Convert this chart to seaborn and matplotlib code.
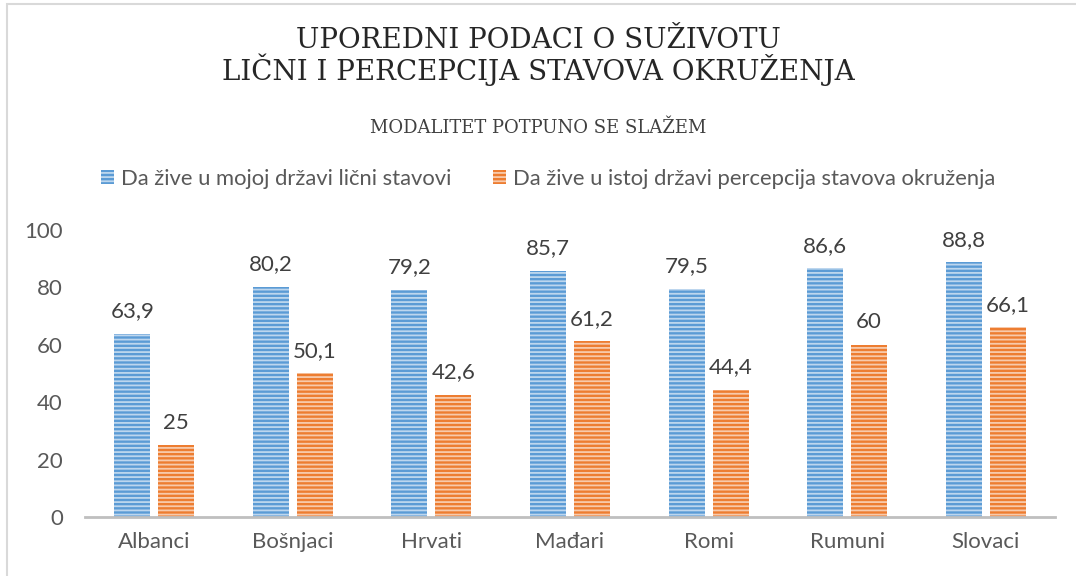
import pandas as pd
import matplotlib.pyplot as plt
import seaborn as sns
from matplotlib.patches import Rectangle

# podaci sa grafikona
grupe = ["Albanci", "Bošnjaci", "Hrvati", "Mađari", "Romi", "Rumuni", "Slovaci"]
licni_stavovi = [63.9, 80.2, 79.2, 85.7, 79.5, 86.6, 88.8]
percepcija_okruzenja = [25, 50.1, 42.6, 61.2, 44.4, 60, 66.1]
serije = ["Da žive u mojoj državi lični stavovi",
          "Da žive u istoj državi percepcija stavova okruženja"]
boje = ["#5B9BD5", "#ED7D31"]

df = pd.DataFrame({
    "grupa": grupe * 2,
    "vrednost": licni_stavovi + percepcija_okruzenja,
    "serija": [serije[0]] * len(grupe) + [serije[1]] * len(grupe),
})

sns.set_theme(style="white")
plt.rcParams["font.family"] = ["Lato", "DejaVu Sans"]
plt.rcParams["hatch.linewidth"] = 1.3

W, H = 1076, 576
fig = plt.figure(figsize=(W / 100, H / 100), dpi=100)
ax = fig.add_axes([85 / W, 59 / H, 970 / W, 287 / H])

sns.barplot(data=df, x="grupa", y="vrednost", hue="serija", palette=boje,
            width=0.635, gap=0.18, saturation=1, ax=ax)

# horizontalne pruge na stubicima
pruge = (1, 1, 1, 0.6)
for p in ax.patches:
    p.set_hatch("----")
    p.set_edgecolor(pruge)
    p.set_linewidth(0)

# oznake vrednosti
for cont in ax.containers:
    labels = [f"{v:g}".replace(".", ",") for v in cont.datavalues]
    ax.bar_label(cont, labels=labels, padding=9, fontsize=16, color="#404040")

ax.set_ylim(0, 100)
ax.set_yticks(range(0, 101, 20))
ax.set_xlabel("")
ax.set_ylabel("")
ax.tick_params(axis="y", labelsize=16, labelcolor="#595959", pad=16, length=0)
ax.tick_params(axis="x", labelsize=16, labelcolor="#595959", pad=11, length=0)
for s in ["top", "right", "left"]:
    ax.spines[s].set_visible(False)
ax.spines["bottom"].set_color("#BFBFBF")
ax.spines["bottom"].set_linewidth(2)

# legenda
handles, lbls = ax.get_legend_handles_labels()
leg = ax.legend(handles, lbls, loc="center left", bbox_to_anchor=(101 / W, 1 - 179 / H),
                bbox_transform=fig.transFigure, ncol=2, frameon=False,
                fontsize=15.8, handlelength=0.6, handleheight=0.6,
                handletextpad=0.3, columnspacing=1.9, borderpad=0, borderaxespad=0)
for t in leg.get_texts():
    t.set_color("#595959")
for p in leg.get_patches():
    p.set_hatch("----")
    p.set_edgecolor(pruge)
    p.set_linewidth(0)

# naslov
fig.text(0.5, 1 - 41 / H, "UPOREDNI PODACI O SUŽIVOTU", ha="center", va="center",
         fontsize=20, family="DejaVu Serif", color="#262626")
fig.text(0.5, 1 - 70 / H, "LIČNI I PERCEPCIJA STAVOVA OKRUŽENJA", ha="center", va="center",
         fontsize=20, family="DejaVu Serif", color="#262626")
fig.text(0.5, 1 - 128 / H, "MODALITET POTPUNO SE SLAŽEM", ha="center", va="center",
         fontsize=13, family="DejaVu Serif", color="#404040")

# okvir
fig.patches.append(Rectangle((7 / W, -0.1), 1.2, 1.1 - 4 / H, transform=fig.transFigure,
                             fill=False, edgecolor="#D9D9D9", linewidth=1.5))

plt.savefig("out.png", dpi=100)
plt.close()
